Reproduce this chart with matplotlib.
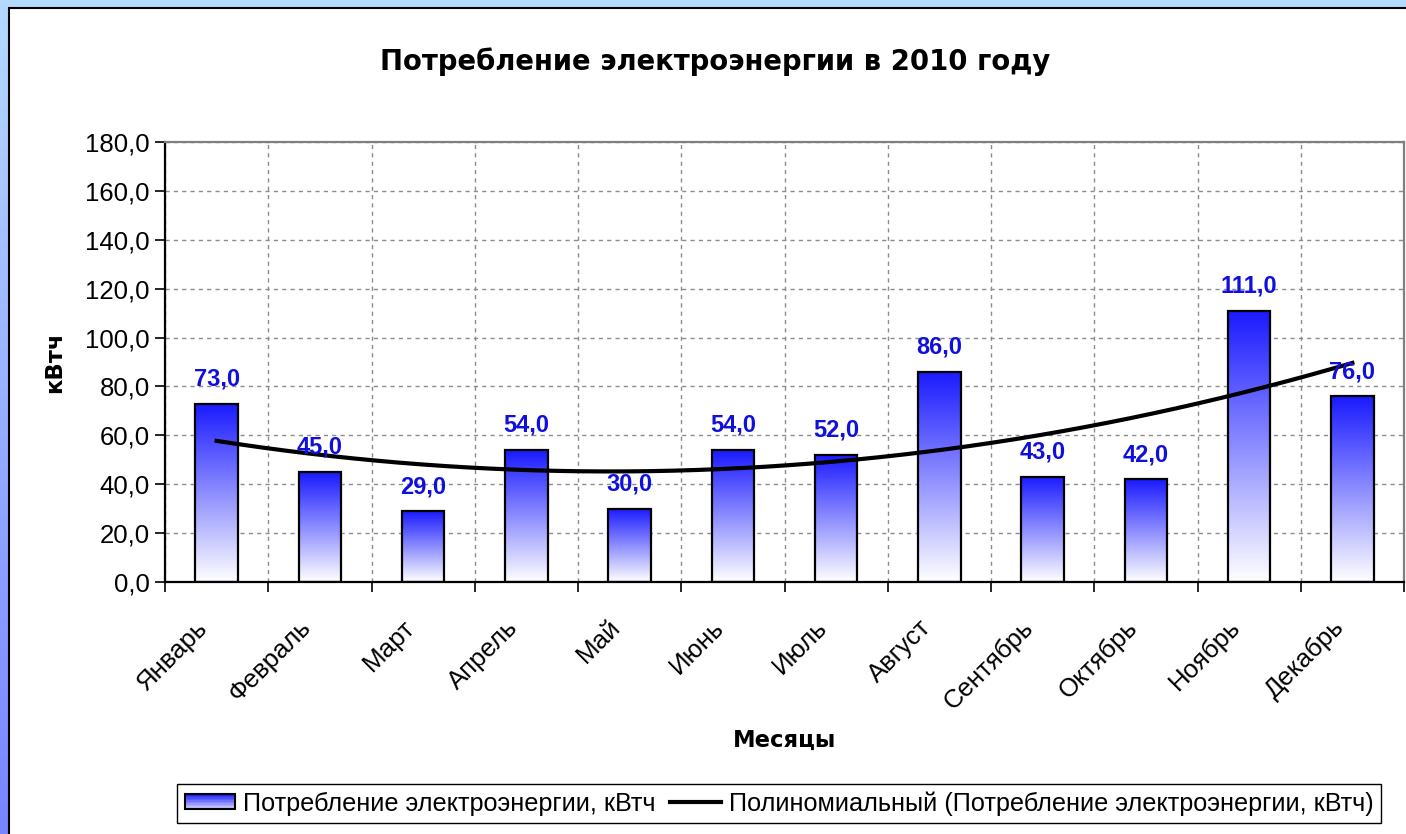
"""
Monthly electricity consumption for 2010 with a polynomial trendline.
"""

import numpy as np
import matplotlib
matplotlib.use('Agg')
import matplotlib.pyplot as plt
from matplotlib.colors import LinearSegmentedColormap
from matplotlib.patches import Rectangle, Patch
from matplotlib.lines import Line2D
from matplotlib.legend_handler import HandlerBase
from matplotlib.transforms import ScaledTranslation

months = ['Январь', 'Февраль', 'Март', 'Апрель', 'Май', 'Июнь',
          'Июль', 'Август', 'Сентябрь', 'Октябрь', 'Ноябрь', 'Декабрь']
consumption = [73, 45, 29, 54, 30, 54, 52, 86, 43, 42, 111, 76]
y_ticks = [0, 20, 40, 60, 80, 100, 120, 140, 160, 180]

title = 'Потребление электроэнергии в 2010 году'
series_name = 'Потребление электроэнергии, кВтч'
trend_name = 'Полиномиальный (Потребление электроэнергии, кВтч)'

plt.rcParams['font.family'] = ['Liberation Sans', 'DejaVu Sans']
BOLD = ['DejaVu Sans']

W, H = 1406, 834
bar_cmap = LinearSegmentedColormap.from_list('bar', ['#ffffff', '#1a1aff'])


class GradientPatchHandler(HandlerBase):
    # legend key drawn as a stack of stripes, blue on top fading to white
    def create_artists(self, legend, orig_handle, xdescent, ydescent,
                       width, height, fontsize, trans):
        n = 10
        arts = []
        for i in range(n):
            r = Rectangle((-xdescent, -ydescent + height * i / n), width, height / n,
                          facecolor=bar_cmap(0.15 + 0.85 * (i + 0.5) / n),
                          edgecolor='none', transform=trans)
            arts.append(r)
        arts.append(Rectangle((-xdescent, -ydescent), width, height, facecolor='none',
                              edgecolor='black', lw=1.5, transform=trans))
        return arts


fig = plt.figure(figsize=(W / 100, H / 100), dpi=100)

# background: blue frame with a white panel
bg = fig.add_axes([0, 0, 1, 1], zorder=-10)
bg.set_xlim(0, W)
bg.set_ylim(H, 0)
top_c = np.array([180, 218, 255]) / 255
bot_c = np.array([118, 132, 255]) / 255
t = np.linspace(0, 1, 256)[:, None, None]
grad = top_c * (1 - t) + bot_c * t
bg.imshow(grad, extent=[0, W, H, 0], aspect='auto')
bg.add_patch(Rectangle((9, 8), W, H, facecolor='white', edgecolor='black', lw=1.5))
bg.axis('off')

ax = fig.add_axes([165 / W, 1 - 582 / H, (1404 - 165) / W, (582 - 142) / H])
ax.set_facecolor('white')

x = np.arange(len(months))
bar_w = 0.41
col = np.linspace(0, 1, 256)[:, None]
for xi, v in zip(x, consumption):
    ax.imshow(col, cmap=bar_cmap, extent=[xi - bar_w / 2, xi + bar_w / 2, 0, v],
              origin='lower', aspect='auto', zorder=2)
bars = ax.bar(x, consumption, width=bar_w, facecolor='none', edgecolor='black',
              lw=1.6, zorder=3)

for xi, v in zip(x, consumption):
    ax.annotate(f'{v:.1f}'.replace('.', ','), (xi, v), xytext=(0, 13),
                textcoords='offset points', ha='center', va='baseline',
                fontsize=17, fontweight='bold', color='#1010dd', zorder=5)

# polynomial (order 2) trendline, as in the source spreadsheet
coef = np.polyfit(x, consumption, 2)
xs = np.linspace(x[0], x[-1], 200)
ax.plot(xs, np.polyval(coef, xs), color='black', lw=3, zorder=4)

ax.set_xlim(-0.5, len(months) - 0.5)
ax.set_ylim(0, 180)

ax.set_yticks(y_ticks)
ax.set_yticklabels([f'{v:.1f}'.replace('.', ',') for v in y_ticks], fontsize=18.5)
ax.set_xticks(np.arange(-0.5, len(months)), labels=[])
ax.set_xticks(x, labels=months, minor=True)
ax.tick_params(axis='both', which='major', direction='out', length=7, width=1.2,
               color='black')
ax.tick_params(axis='y', pad=4)
ax.tick_params(axis='x', which='minor', length=0, pad=24, labelsize=18.5)
for lab in ax.get_xticklabels(minor=True):
    lab.set_rotation(45)
    lab.set_ha('right')
    lab.set_va('top')
    lab.set_rotation_mode('anchor')
    lab.set_transform(lab.get_transform() + ScaledTranslation(-0.21, 0, fig.dpi_scale_trans))

ax.grid(True, which='major', color='#8c8c8c', linestyle=(0, (3, 3)), lw=1)
ax.set_axisbelow(True)
for side in ['left', 'bottom']:
    ax.spines[side].set_color('black')
    ax.spines[side].set_linewidth(1.6)
for side in ['top', 'right']:
    ax.spines[side].set_color('#808080')
    ax.spines[side].set_linewidth(1.6)

fig.text(715 / W, 1 - 62 / H, title, ha='center', va='center',
         fontsize=19.8, fontweight='bold', family=BOLD)
fig.text(785 / W, 1 - 740 / H, 'Месяцы', ha='center', va='center',
         fontsize=16.3, fontweight='bold', family=BOLD)
fig.text(55 / W, 1 - 362 / H, 'кВтч', ha='center', va='center', rotation=90,
         fontsize=16.3, fontweight='bold', family=BOLD)

handles = [Patch(facecolor='#9090ff', edgecolor='black'),
           Line2D([], [], color='black', lw=3)]
leg = fig.legend(handles, [series_name, trend_name], loc='center',
                 bbox_to_anchor=(779 / W, 1 - 803.5 / H), ncol=2, fontsize=18.2,
                 frameon=True, fancybox=False, framealpha=1, edgecolor='black',
                 handlelength=2.0, handleheight=0.55, handletextpad=0.3,
                 columnspacing=0.6, borderpad=0.3, borderaxespad=0,
                 handler_map={Patch: GradientPatchHandler()})
leg.get_frame().set_linewidth(1)

fig.savefig('out.png', dpi=100)
plt.close(fig)
